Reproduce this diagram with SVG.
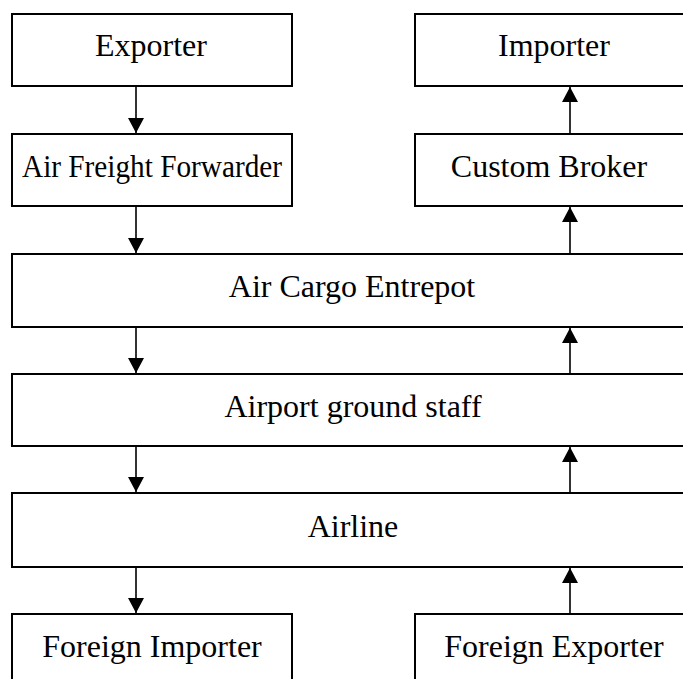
<svg xmlns="http://www.w3.org/2000/svg" width="683" height="679" viewBox="0 0 683 679">
<style>
.box{fill:#fff;stroke:#000;stroke-width:2}
.lbl{font-family:"Liberation Serif","Times New Roman",serif;font-size:32px;fill:#000;text-anchor:middle}
.conn line{stroke:#000;stroke-width:1.6}
</style>
<defs>
<marker id="ah" markerUnits="userSpaceOnUse" markerWidth="16" markerHeight="16" viewBox="0 0 16 16" refX="15" refY="8" orient="auto">
<path d="M0,0 L15,8 L0,16 Z" fill="#000"/>
</marker>
</defs>
<rect width="683" height="679" fill="#fff"/>
<g id="exporter"><rect class="box" x="12" y="14" width="280" height="72"/><text class="lbl" x="151" y="56">Exporter</text></g>
<g id="importer"><rect class="box" x="415" y="14" width="272" height="72"/><text class="lbl" x="554" y="56">Importer</text></g>
<g id="forwarder"><rect class="box" x="12" y="134" width="280" height="72"/><text class="lbl" x="152" y="177" textLength="260" lengthAdjust="spacingAndGlyphs">Air Freight Forwarder</text></g>
<g id="broker"><rect class="box" x="415" y="134" width="272" height="72"/><text class="lbl" x="549" y="177">Custom Broker</text></g>
<g id="entrepot"><rect class="box" x="12" y="254" width="675" height="73"/><text class="lbl" x="352" y="297">Air Cargo Entrepot</text></g>
<g id="ground"><rect class="box" x="12" y="374" width="675" height="72"/><text class="lbl" x="353" y="417">Airport ground staff</text></g>
<g id="airline"><rect class="box" x="12" y="493" width="675" height="74"/><text class="lbl" x="353" y="537">Airline</text></g>
<g id="foreign-importer"><rect class="box" x="12" y="614" width="280" height="72"/><text class="lbl" x="152" y="657">Foreign Importer</text></g>
<g id="foreign-exporter"><rect class="box" x="415" y="614" width="272" height="72"/><text class="lbl" x="554" y="657">Foreign Exporter</text></g>
<g id="connectors" class="conn">
<line x1="136" y1="87" x2="136" y2="133" marker-end="url(#ah)"/>
<line x1="136" y1="207" x2="136" y2="253" marker-end="url(#ah)"/>
<line x1="136" y1="328" x2="136" y2="373" marker-end="url(#ah)"/>
<line x1="136" y1="447" x2="136" y2="492" marker-end="url(#ah)"/>
<line x1="136" y1="568" x2="136" y2="613" marker-end="url(#ah)"/>
<line x1="570" y1="133" x2="570" y2="87" marker-end="url(#ah)"/>
<line x1="570" y1="253" x2="570" y2="207" marker-end="url(#ah)"/>
<line x1="570" y1="373" x2="570" y2="328" marker-end="url(#ah)"/>
<line x1="570" y1="492" x2="570" y2="447" marker-end="url(#ah)"/>
<line x1="570" y1="613" x2="570" y2="568" marker-end="url(#ah)"/>
</g>
</svg>
